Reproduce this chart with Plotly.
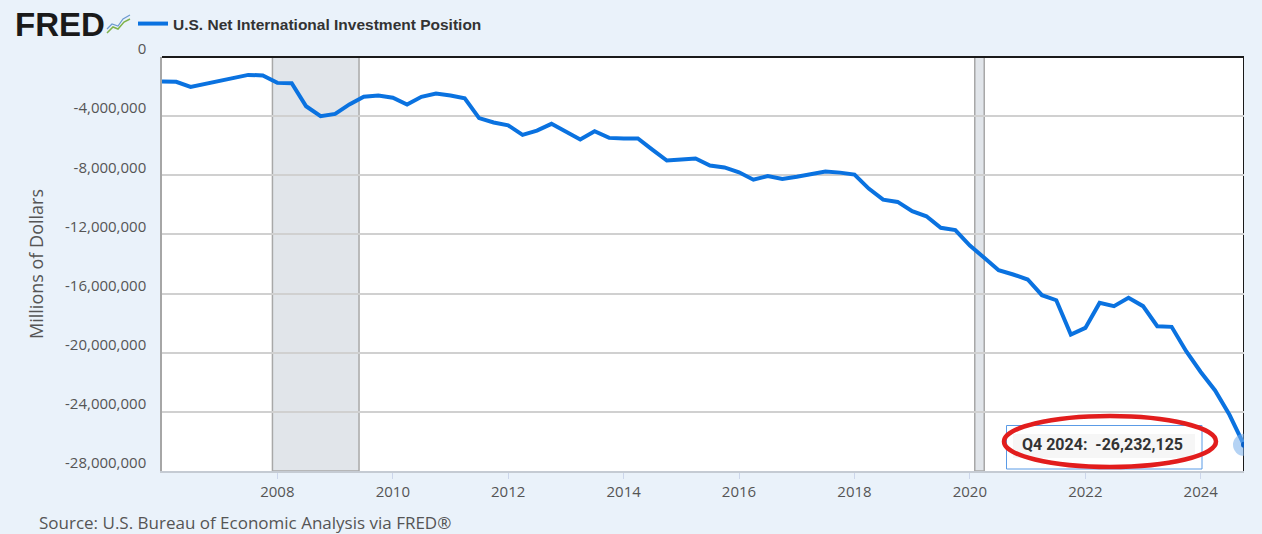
import plotly.graph_objects as go

# ---- data (millions of dollars, quarterly 2006Q1 - 2024Q4) ----
quarters = [f"{y}-{m:02d}-01" for y in range(2006, 2025) for m in (1, 4, 7, 10)]
niip = [
    -1660000, -1680000, -2020000, -1810000,   # 2006
    -1640000, -1410000, -1210000, -1250000,   # 2007
    -1750000, -1770000, -3330000, -4000000,   # 2008
    -3850000, -3210000, -2690000, -2600000,   # 2009
    -2750000, -3210000, -2690000, -2470000,   # 2010
    -2600000, -2800000, -4130000, -4430000,   # 2011
    -4620000, -5270000, -4980000, -4520000,   # 2012
    -5080000, -5580000, -5020000, -5470000,   # 2013
    -5510000, -5510000, -6260000, -7000000,   # 2014
    -6930000, -6860000, -7340000, -7470000,   # 2015
    -7800000, -8300000, -8050000, -8250000,   # 2016
    -8100000, -7950000, -7750000, -7820000,   # 2017
    -7950000, -8900000, -9650000, -9800000,   # 2018
    -10430000, -10770000, -11550000, -11710000,  # 2019
    -12750000, -13580000, -14420000, -14710000,  # 2020
    -15050000, -16110000, -16450000, -18770000,  # 2021
    -18320000, -16630000, -16850000, -16290000,  # 2022
    -16850000, -18210000, -18250000, -19900000,  # 2023
    -21300000, -22550000, -24200000, -26232125,  # 2024
]
series_name = "U.S. Net International Investment Position"
recessions = [("2007-12-01", "2009-06-01"), ("2020-02-01", "2020-04-01")]
y_ticks = [0, -4000000, -8000000, -12000000, -16000000, -20000000, -24000000, -28000000]
y_ticktext = ["0", "-4,000,000", "-8,000,000", "-12,000,000", "-16,000,000",
              "-20,000,000", "-24,000,000", "-28,000,000"]
x_tick_years = list(range(2008, 2025, 2))

W, H = 1262, 534
ML, MR, MT, MB = 162, 18, 57, 63
PW, PH = W - ML - MR, H - MT - MB


def px(xp):
    return (xp - ML) / PW


def py(yp):
    return (H - MB - yp) / PH


LINE = "#0a72e0"
fig = go.Figure()
fig.add_trace(go.Scatter(x=quarters, y=niip, mode="lines", name=series_name,
                         line=dict(color=LINE, width=4), hoverinfo="skip"))
# hover highlight on last point
fig.add_trace(go.Scatter(x=[quarters[-1]], y=[niip[-1]], mode="markers", showlegend=False,
                         marker=dict(size=22, color="rgba(120,175,235,0.55)"), hoverinfo="skip"))
fig.add_trace(go.Scatter(x=[quarters[-1]], y=[niip[-1]], mode="markers", showlegend=False,
                         marker=dict(size=6, color="#0a5fc4"), hoverinfo="skip"))

shapes = []
for a, b in recessions:
    shapes.append(dict(type="rect", xref="x", yref="paper", x0=a, x1=b, y0=0, y1=1,
                       fillcolor="#e1e5ea", line=dict(color="#a8a8a8", width=1.5), layer="below"))
# top border and crosshair
shapes.append(dict(type="line", xref="paper", yref="paper", x0=0, x1=1, y0=1, y1=1,
                   line=dict(color="#1a1a1a", width=2)))
shapes.append(dict(type="line", xref="x", yref="paper", x0=quarters[-1], x1=quarters[-1], y0=0, y1=1,
                   line=dict(color="#1a1a1a", width=2), layer="below"))
# tooltip box
shapes.append(dict(type="rect", xref="paper", yref="paper",
                   x0=px(1006.5), x1=px(1202), y0=py(469), y1=py(425.5),
                   fillcolor="white", line=dict(color="#5b9be6", width=1)))
shapes.append(dict(type="rect", xref="paper", yref="paper",
                   x0=px(1013), x1=px(1195), y0=py(458), y1=py(434),
                   fillcolor="#f6f6f6", line=dict(width=0)))
# red ellipse annotation mark
shapes.append(dict(type="circle", xref="paper", yref="paper",
                   x0=px(1004), x1=px(1216), y0=py(467), y1=py(416),
                   line=dict(color="#e21d1d", width=4.5)))
# FRED logo sparkline icon
shapes.append(dict(type="path", xref="paper", yref="paper",
                   path="M {} {} L {} {} L {} {} L {} {} L {} {}".format(
                       px(107), py(33), px(113), py(27), px(118), py(29), px(124), py(22), px(130), py(19)),
                   line=dict(color="#7fb24a", width=1.5)))
shapes.append(dict(type="path", xref="paper", yref="paper",
                   path="M {} {} L {} {} L {} {} L {} {} L {} {}".format(
                       px(107), py(29), px(112), py(24), px(118), py(26), px(123), py(19), px(130), py(15)),
                   line=dict(color="#6c9ad0", width=1.2)))

annotations = [
    dict(xref="paper", yref="paper", x=px(13), y=py(24), xanchor="left", yanchor="middle",
         text="<b>FRED</b>", showarrow=False,
         font=dict(family="Liberation Sans", size=33, color="#1a1a1a")),
    dict(xref="paper", yref="paper", x=px(37), y=py(522), xanchor="left", yanchor="middle",
         text="Source: U.S. Bureau of Economic Analysis via FRED®", showarrow=False,
         font=dict(family="Open Sans", size=17, color="#555555")),
    dict(xref="x", yref="y", x=quarters[-1], y=niip[-1], xanchor="center", yanchor="middle",
         xshift=-142, text=f"<b>Q4 2024:  {niip[-1]:,}</b>", showarrow=False,
         font=dict(family="Roboto", size=16, color="#333333")),
]

fig.update_layout(
    width=W, height=H, autosize=False,
    margin=dict(l=ML, r=MR, t=MT, b=MB, pad=0, autoexpand=False),
    paper_bgcolor="#eaf2fa", plot_bgcolor="white",
    showlegend=True,
    legend=dict(x=px(133), y=py(24), xanchor="left", yanchor="middle",
                bgcolor="rgba(0,0,0,0)", borderwidth=0,
                font=dict(family="Liberation Sans", size=15.5, color="#333333", weight="bold")),
    shapes=shapes, annotations=annotations,
    xaxis=dict(type="date", range=[quarters[0], quarters[-1]],
               tickvals=[f"{y}-01-01" for y in x_tick_years],
               ticktext=[str(y) for y in x_tick_years],
               showgrid=False, zeroline=False,
               showline=True, linecolor="#c5cbd3", linewidth=2,
               ticks="outside", ticklen=6, tickcolor="#ccd6eb", tickwidth=1,
               tickfont=dict(family="Open Sans", size=15, color="#555555")),
    yaxis=dict(range=[-28000000, 0], tickvals=y_ticks, ticktext=y_ticktext,
               showgrid=True, gridcolor="#d0d0d0", gridwidth=2, zeroline=False,
               showline=True, linecolor="#a6a6a6", linewidth=1.5,
               ticks="", ticklabelshift=-8, ticklabelstandoff=11,
               tickfont=dict(family="Open Sans", size=15, color="#555555"),
               title=dict(text="Millions of Dollars", standoff=17,
                          font=dict(family="Open Sans", size=18, color="#555555"))),
)

fig.write_html("out.html", config={"displayModeBar": False},
               post_script="document.body.style.margin='0';")
